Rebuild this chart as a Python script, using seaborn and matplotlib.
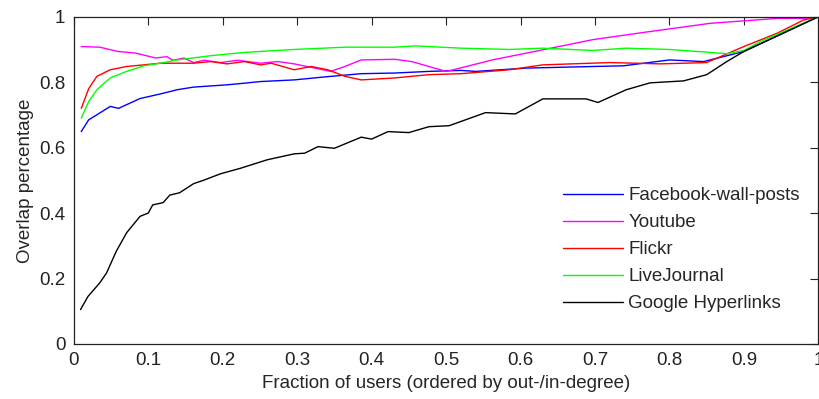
import numpy as np
import pandas as pd
import matplotlib
matplotlib.use("Agg")
import matplotlib.pyplot as plt
import seaborn as sns

# overlap curves, values

fb_x = [0.01, 0.02, 0.035, 0.049, 0.06, 0.089, 0.116, 0.139, 0.161, 0.206, 0.229, 0.251, 0.296,
        0.341, 0.386, 0.431, 0.477, 0.52, 0.54, 0.607, 0.697, 0.738, 0.80, 0.846, 0.90, 1.0]
fb_y = [0.649, 0.685, 0.706, 0.726, 0.72, 0.75, 0.764, 0.777, 0.785, 0.792, 0.797, 0.802, 0.807,
        0.817, 0.826, 0.828, 0.833, 0.836, 0.833, 0.843, 0.848, 0.85, 0.868, 0.863, 0.894, 1.0]

yt_x = [0.01, 0.035, 0.059, 0.083, 0.11, 0.125, 0.133, 0.148, 0.161, 0.175, 0.197, 0.22, 0.251,
        0.274, 0.296, 0.345, 0.364, 0.386, 0.431, 0.454, 0.50, 0.51, 0.562, 0.63, 0.697, 0.765,
        0.855, 0.945, 0.98, 1.0]
yt_y = [0.909, 0.907, 0.894, 0.889, 0.874, 0.878, 0.867, 0.874, 0.86, 0.867, 0.86, 0.867, 0.858,
        0.863, 0.856, 0.833, 0.848, 0.868, 0.87, 0.863, 0.833, 0.838, 0.868, 0.899, 0.93, 0.952,
        0.98, 0.995, 0.995, 1.0]

fl_x = [0.01, 0.02, 0.031, 0.049, 0.071, 0.094, 0.116, 0.161, 0.184, 0.206, 0.229, 0.251, 0.265,
        0.296, 0.319, 0.341, 0.364, 0.386, 0.431, 0.477, 0.52, 0.585, 0.63, 0.72, 0.788, 0.85,
        0.90, 0.945, 0.98, 1.0]
fl_y = [0.72, 0.78, 0.818, 0.838, 0.848, 0.853, 0.858, 0.858, 0.863, 0.856, 0.863, 0.853, 0.858,
        0.838, 0.848, 0.838, 0.818, 0.807, 0.813, 0.823, 0.826, 0.838, 0.853, 0.86, 0.856, 0.86,
        0.909, 0.95, 0.99, 1.0]

lj_x = [0.01, 0.02, 0.031, 0.049, 0.071, 0.094, 0.116, 0.139, 0.184, 0.229, 0.296, 0.364, 0.431,
        0.459, 0.52, 0.585, 0.63, 0.697, 0.742, 0.80, 0.855, 0.877, 0.90, 0.923, 1.0]
lj_y = [0.69, 0.741, 0.777, 0.813, 0.833, 0.85, 0.858, 0.868, 0.881, 0.891, 0.90, 0.907, 0.907,
        0.911, 0.904, 0.90, 0.904, 0.897, 0.904, 0.90, 0.891, 0.887, 0.897, 0.925, 1.0]

gh_x = [0.009, 0.019, 0.035, 0.044, 0.057, 0.071, 0.089, 0.10, 0.106, 0.12, 0.129, 0.142, 0.161,
        0.174, 0.197, 0.224, 0.26, 0.296, 0.31, 0.328, 0.35, 0.386, 0.40, 0.422, 0.45, 0.477,
        0.504, 0.52, 0.553, 0.593, 0.63, 0.688, 0.704, 0.742, 0.774, 0.819, 0.85, 0.877, 0.90, 1.0]
gh_y = [0.105, 0.145, 0.187, 0.217, 0.283, 0.34, 0.39, 0.40, 0.425, 0.432, 0.455, 0.462, 0.49,
        0.50, 0.52, 0.537, 0.563, 0.581, 0.583, 0.603, 0.598, 0.632, 0.626, 0.649, 0.646, 0.664,
        0.667, 0.68, 0.707, 0.703, 0.749, 0.749, 0.738, 0.777, 0.798, 0.804, 0.823, 0.863, 0.894, 1.0]

names = ["Facebook-wall-posts", "Youtube", "Flickr", "LiveJournal", "Google Hyperlinks"]
colors = ["#0000ff", "#ff00ff", "#ff0000", "#00ff00", "#000000"]

xs = [fb_x, yt_x, fl_x, lj_x, gh_x]
ys = [fb_y, yt_y, fl_y, lj_y, gh_y]
df = pd.concat([pd.DataFrame({"x": a, "y": b, "name": n}) for a, b, n in zip(xs, ys, names)],
               ignore_index=True)

sns.set_style("white")
plt.rcParams["font.family"] = ["Liberation Sans", "DejaVu Sans"]
fs = 13.5

fig = plt.figure(figsize=(8.2, 3.99), dpi=100)
ax = fig.add_axes([0.09, 0.138, 0.908, 0.82])

sns.lineplot(data=df, x="x", y="y", hue="name", hue_order=names,
             palette=dict(zip(names, colors)), sort=False, estimator=None,
             linewidth=1.0, ax=ax)

ax.set_xlim(0, 1)
ax.set_ylim(0, 1)
ax.set_xticks(np.arange(0, 1.01, 0.1))
ax.set_xticklabels(["0", "0.1", "0.2", "0.3", "0.4", "0.5", "0.6", "0.7", "0.8", "0.9", "1"])
ax.set_yticks(np.arange(0, 1.01, 0.2))
ax.set_yticklabels(["0", "0.2", "0.4", "0.6", "0.8", "1"])
ax.tick_params(direction="in", length=6, width=0.8, top=True, right=True,
               labelsize=fs, colors="#222222", pad=6)
for s in ax.spines.values():
    s.set_linewidth(0.9)
    s.set_color("#222222")

ax.set_xlabel("Fraction of users (ordered by out-/in-degree)", fontsize=fs, labelpad=4)
ax.set_ylabel("Overlap percentage", fontsize=fs, labelpad=4)

ax.legend(loc="lower right", bbox_to_anchor=(0.998, 0.045), frameon=False,
          handlelength=3.2, handletextpad=0.3, labelspacing=0.53, fontsize=fs)

fig.savefig("out.png", dpi=100)
